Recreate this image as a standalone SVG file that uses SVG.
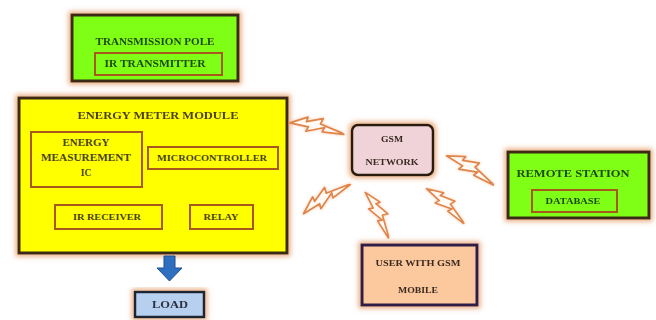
<svg xmlns="http://www.w3.org/2000/svg" width="656" height="320" viewBox="0 0 656 320">
<defs>
<filter id="glow" x="-20%" y="-20%" width="140%" height="140%">
<feMorphology in="SourceAlpha" operator="dilate" radius="2" result="d"/>
<feGaussianBlur in="d" stdDeviation="2.5" result="b"/>
<feFlood flood-color="#e0925a" flood-opacity="0.75"/>
<feComposite in2="b" operator="in" result="g"/>
<feMerge><feMergeNode in="g"/><feMergeNode in="SourceGraphic"/></feMerge>
</filter>
<filter id="bglow" x="-30%" y="-60%" width="160%" height="220%">
<feGaussianBlur in="SourceAlpha" stdDeviation="1.5" result="b"/>
<feFlood flood-color="#f0a070" flood-opacity="0.6"/>
<feComposite in2="b" operator="in" result="g"/>
<feMerge><feMergeNode in="g"/><feMergeNode in="SourceGraphic"/></feMerge>
</filter>
<path id="bolt" d="M0,1 L18,-8 L17,-3 L34,-9 L32,-3 L56,3 L58,4 L35,5 L37,0 L18,7 L20,2 Z"/>
</defs>
<style>
text{font-family:"Liberation Serif","Times New Roman",serif;font-weight:bold;text-anchor:middle}
.outer{stroke:#3b2a14;stroke-width:3}
.green{fill:#80ff14}
.yel{fill:#ffff00}
.inner{fill:none;stroke:#a8581c;stroke-width:2}
.tg{fill:#1e4a10}
.ty{fill:#4a3f10}
.bolt{fill:#fffaf4;stroke:#e0844a;stroke-width:1.8;stroke-linejoin:round}
</style>
<rect width="656" height="320" fill="#ffffff"/>

<g id="transmission-pole" filter="url(#glow)">
<rect x="72" y="15" width="166" height="66" class="outer green"/>
<text x="155" y="45" font-size="9.5" textLength="119" lengthAdjust="spacingAndGlyphs" class="tg">TRANSMISSION POLE</text>
<rect x="95" y="53" width="127" height="22" class="inner" stroke="#7a6a10"/>
<text x="155" y="67" font-size="9.5" textLength="101" lengthAdjust="spacingAndGlyphs" class="tg">IR TRANSMITTER</text>
</g>

<g id="energy-meter-module" filter="url(#glow)">
<rect x="19" y="98" width="268" height="155" class="outer yel"/>
<text x="158" y="119" font-size="10" textLength="161" lengthAdjust="spacingAndGlyphs" class="ty">ENERGY METER MODULE</text>
</g>
<g id="energy-measurement-ic">
<rect x="31" y="132" width="111" height="55" class="inner"/>
<text x="86" y="146" font-size="9.5" textLength="47" lengthAdjust="spacingAndGlyphs" class="ty">ENERGY</text>
<text x="86" y="161" font-size="9.5" textLength="90" lengthAdjust="spacingAndGlyphs" class="ty">MEASUREMENT</text>
<text x="86" y="176" font-size="9.5" class="ty">IC</text>
</g>
<g id="microcontroller">
<rect x="148" y="147" width="130" height="22" class="inner"/>
<text x="212" y="161" font-size="9" textLength="110" lengthAdjust="spacingAndGlyphs" class="ty">MICROCONTROLLER</text>
</g>
<g id="ir-receiver">
<rect x="55" y="205" width="107" height="24" class="inner"/>
<text x="107" y="220" font-size="9" textLength="68" lengthAdjust="spacingAndGlyphs" class="ty">IR RECEIVER</text>
</g>
<g id="relay">
<rect x="190" y="205" width="63" height="24" class="inner"/>
<text x="221" y="220" font-size="9" textLength="35" lengthAdjust="spacingAndGlyphs" class="ty">RELAY</text>
</g>

<g id="gsm-network" filter="url(#glow)">
<rect x="352" y="125" width="81" height="50" rx="6" fill="#efd3d8" stroke="#2a1a10" stroke-width="2.5"/>
<text x="392" y="142" font-size="8" textLength="22" lengthAdjust="spacingAndGlyphs" fill="#3a2a20">GSM</text>
<text x="392" y="165" font-size="8.5" textLength="53" lengthAdjust="spacingAndGlyphs" fill="#3a2a20">NETWORK</text>
</g>

<g id="remote-station" filter="url(#glow)">
<rect x="508" y="152" width="141" height="66" class="outer green"/>
<text x="573" y="177" font-size="10" textLength="113" lengthAdjust="spacingAndGlyphs" class="tg">REMOTE STATION</text>
<rect x="532" y="190" width="85" height="22" class="inner" stroke="#a05a1c"/>
<text x="573" y="204" font-size="8.5" textLength="55" lengthAdjust="spacingAndGlyphs" class="tg">DATABASE</text>
</g>

<g id="user-with-gsm-mobile" filter="url(#glow)">
<rect x="362" y="245" width="115" height="60" fill="#fcc89e" stroke="#2e1e4a" stroke-width="3"/>
<text x="418" y="266" font-size="8" textLength="85" lengthAdjust="spacingAndGlyphs" fill="#3a2a20">USER WITH GSM</text>
<text x="418" y="293" font-size="8.5" textLength="40" lengthAdjust="spacingAndGlyphs" fill="#3a2a20">MOBILE</text>
</g>

<g id="load" filter="url(#glow)">
<rect x="135" y="292" width="69" height="25" fill="#b8d0f0" stroke="#1e2630" stroke-width="2.5"/>
<text x="170" y="308" font-size="9.5" textLength="36" lengthAdjust="spacingAndGlyphs" fill="#2a3040">LOAD</text>
</g>

<g id="connectors">
<path d="M164,256 H175 V268 H182 L169.5,281 L157,268 H164 Z" fill="#2f6fc0" stroke="#1e4f90" stroke-width="1"/>
<g filter="url(#bglow)">
<use href="#bolt" class="bolt" transform="translate(290,122) rotate(9) scale(0.95)"/>
<use href="#bolt" class="bolt" transform="translate(447,155) rotate(29) scale(0.95)"/>
<use href="#bolt" class="bolt" transform="translate(303,213) rotate(-35) scale(0.95)"/>
<use href="#bolt" class="bolt" transform="translate(366,192) rotate(60) scale(0.88)"/>
<use href="#bolt" class="bolt" transform="translate(427,188) rotate(40) scale(0.88)"/>
</g>
</g>
</svg>
